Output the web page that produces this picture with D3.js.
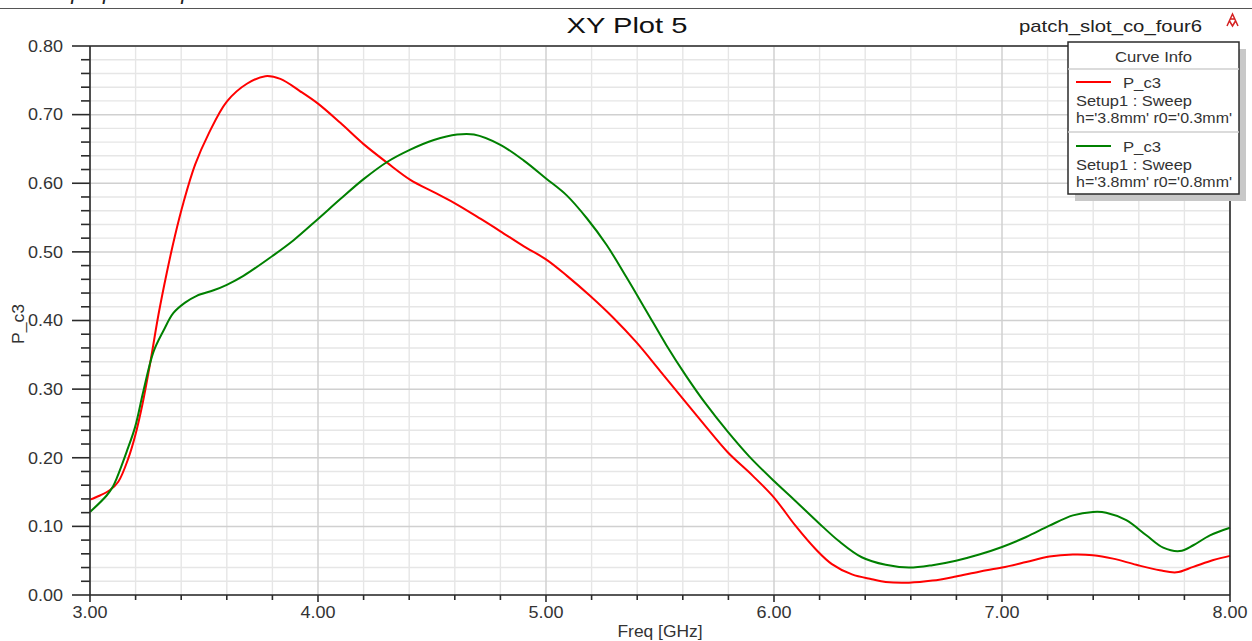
<!DOCTYPE html>
<html><head><meta charset="utf-8">
<script src="https://cdn.jsdelivr.net/npm/d3@7"></script>
<style>
html,body{margin:0;padding:0;background:#fff;overflow:hidden}
text{font-family:"Liberation Sans",Arial,sans-serif}
</style></head>
<body><svg id="c" width="1252" height="641"></svg>
<script>
// ---------- data ----------
const freqRed = [3.000,3.044,3.088,3.124,3.168,3.198,3.230,3.264,3.300,3.337,3.373,3.410,3.461,3.520,3.600,3.688,3.769,3.835,3.922,4.000,4.098,4.200,4.303,4.405,4.508,4.610,4.714,4.800,4.903,5.000,5.092,5.193,5.295,5.397,5.499,5.600,5.702,5.797,5.906,6.000,6.094,6.182,6.254,6.342,6.429,6.490,6.592,6.695,6.798,6.900,7.000,7.106,7.208,7.311,7.399,7.487,7.589,7.692,7.765,7.839,7.927,8.000];
const valRed  = [0.139,0.145,0.153,0.165,0.199,0.232,0.278,0.338,0.408,0.470,0.524,0.572,0.627,0.672,0.719,0.745,0.756,0.752,0.734,0.716,0.688,0.657,0.630,0.605,0.587,0.569,0.548,0.530,0.508,0.489,0.465,0.436,0.404,0.368,0.327,0.286,0.245,0.208,0.174,0.142,0.101,0.067,0.045,0.030,0.023,0.019,0.018,0.021,0.027,0.034,0.040,0.048,0.056,0.059,0.058,0.053,0.044,0.036,0.033,0.041,0.051,0.057];
const freqGreen = [3.000,3.073,3.102,3.117,3.161,3.198,3.234,3.278,3.322,3.366,3.417,3.468,3.542,3.600,3.673,3.800,3.893,4.000,4.098,4.200,4.303,4.405,4.508,4.610,4.684,4.800,4.903,5.000,5.092,5.179,5.266,5.353,5.440,5.528,5.615,5.702,5.797,5.891,6.000,6.094,6.196,6.283,6.385,6.490,6.592,6.695,6.798,6.900,7.000,7.106,7.208,7.311,7.399,7.457,7.545,7.633,7.707,7.780,7.839,7.912,8.000];
const valGreen  = [0.121,0.145,0.159,0.170,0.209,0.245,0.297,0.354,0.385,0.411,0.426,0.436,0.444,0.452,0.465,0.494,0.517,0.548,0.577,0.606,0.631,0.649,0.663,0.671,0.671,0.656,0.633,0.607,0.582,0.549,0.510,0.463,0.414,0.364,0.319,0.278,0.238,0.202,0.166,0.137,0.105,0.079,0.055,0.044,0.040,0.0435,0.050,0.059,0.070,0.0845,0.101,0.116,0.121,0.120,0.109,0.087,0.069,0.064,0.0725,0.087,0.098];
const xTickLabels = ["3.00","4.00","5.00","6.00","7.00","8.00"];
const yTickLabels = ["0.00","0.10","0.20","0.30","0.40","0.50","0.60","0.70","0.80"];
const seriesNames = ["P_c3","P_c3"];
const seriesSetup = ["Setup1 : Sweep","Setup1 : Sweep"];
const seriesParams = ["h='3.8mm' r0='0.3mm'","h='3.8mm' r0='0.8mm'"];
const seriesColors = ["#ff0000","#008000"];

// ---------- layout ----------
const svg = d3.select("#c");
const L=90,R=1230,T=46,B=595;
const x = d3.scaleLinear().domain([3,8]).range([L,R]);
const y = d3.scaleLinear().domain([0,0.8]).range([B,T]);
const axisCol="#2b2b2b", txtCol="#333";

// header remnant
svg.append("text").attr("x",10).attr("y",-1).attr("font-family","Liberation Serif").attr("font-style","italic")
  .attr("font-size",22).attr("fill","#222").text("of the proposed operation structure.");
svg.append("line").attr("x1",0).attr("x2",1252).attr("y1",8.5).attr("y2",8.5).attr("stroke","#555").attr("stroke-width",1);

// grid
const g = svg.append("g");
const minorX = d3.range(0,26).map(i=>3+i*0.2);
const minorY = d3.range(0,41).map(i=>i*0.02);
g.selectAll(".mx").data(minorX.filter((d,i)=>i%5!==0)).join("line")
  .attr("x1",d=>x(d)).attr("x2",d=>x(d)).attr("y1",T).attr("y2",B).attr("stroke","#e6e6e6").attr("stroke-width",1.4);
g.selectAll(".my").data(minorY.filter((d,i)=>i%5!==0)).join("line")
  .attr("y1",d=>y(d)).attr("y2",d=>y(d)).attr("x1",L).attr("x2",R).attr("stroke","#e6e6e6").attr("stroke-width",1.4);
g.selectAll(".Mx").data(minorX.filter((d,i)=>i%5===0)).join("line")
  .attr("x1",d=>x(d)).attr("x2",d=>x(d)).attr("y1",T).attr("y2",B).attr("stroke","#d0d0d0").attr("stroke-width",1.5);
g.selectAll(".My").data(minorY.filter((d,i)=>i%5===0)).join("line")
  .attr("y1",d=>y(d)).attr("y2",d=>y(d)).attr("x1",L).attr("x2",R).attr("stroke","#d0d0d0").attr("stroke-width",1.5);

// curves
const line = d3.line().x(d=>x(d[0])).y(d=>y(d[1])).curve(d3.curveCatmullRom.alpha(0.5));
const series = [d3.zip(freqRed,valRed), d3.zip(freqGreen,valGreen)];
svg.append("g").selectAll("path").data(series).join("path")
  .attr("d",line).attr("fill","none").attr("stroke",(d,i)=>seriesColors[i]).attr("stroke-width",2);

// frame & axes
const ax = svg.append("g").attr("stroke",axisCol).attr("stroke-width",1.6);
ax.append("line").attr("x1",L).attr("x2",R).attr("y1",T).attr("y2",T);
ax.append("line").attr("x1",R).attr("x2",R).attr("y1",T).attr("y2",B);
ax.append("line").attr("x1",L).attr("x2",L).attr("y1",T).attr("y2",B);
ax.append("line").attr("x1",L).attr("x2",R).attr("y1",B).attr("y2",B);
ax.selectAll(".yt").data(minorY).join("line")
  .attr("x1",(d,i)=>i%5===0?L-18:L-9).attr("x2",L).attr("y1",d=>y(d)).attr("y2",d=>y(d));
ax.selectAll(".xt").data(minorX).join("line")
  .attr("x1",d=>x(d)).attr("x2",d=>x(d)).attr("y1",B).attr("y2",(d,i)=>i%5===0?B+7:B+5);

// tick labels
svg.append("g").selectAll("text").data(yTickLabels).join("text")
  .attr("x",63).attr("y",d=>y(+d)).attr("dy","0.36em").attr("text-anchor","end")
  .attr("font-size",16).attr("fill",txtCol).attr("textLength",35).attr("lengthAdjust","spacingAndGlyphs").text(d=>d);
svg.append("g").selectAll("text").data(xTickLabels).join("text")
  .attr("x",d=>x(+d)).attr("y",618).attr("text-anchor","middle")
  .attr("font-size",16).attr("fill",txtCol).attr("textLength",35).attr("lengthAdjust","spacingAndGlyphs").text(d=>d);

// axis titles
svg.append("text").attr("x",(L+R)/2).attr("y",636.5).attr("text-anchor","middle").attr("font-size",16)
  .attr("fill",txtCol).attr("textLength",85).attr("lengthAdjust","spacingAndGlyphs").text("Freq [GHz]");
svg.append("text").attr("transform","translate(24,324) rotate(-90)").attr("text-anchor","middle").attr("font-size",16)
  .attr("fill",txtCol).attr("textLength",40).attr("lengthAdjust","spacingAndGlyphs").text("P_c3");

// title
svg.append("text").attr("x",627).attr("y",33).attr("text-anchor","middle").attr("font-size",22)
  .attr("fill","#111").attr("textLength",121).attr("lengthAdjust","spacingAndGlyphs").text("XY Plot 5");
svg.append("text").attr("x",1019).attr("y",32).attr("font-size",17)
  .attr("fill","#222").attr("textLength",183).attr("lengthAdjust","spacingAndGlyphs").text("patch_slot_co_four6");
// icon
svg.append("path").attr("d","M1227,26 L1232.5,14 L1238,26 M1229.5,21 L1232.5,26 L1235.5,21 M1230,19 L1235,19")
  .attr("fill","none").attr("stroke","#d42020").attr("stroke-width",1.5);

// legend
const lx=1068, ly=42, lw=171, lh=152;
svg.append("rect").attr("x",lx+7).attr("y",ly+7).attr("width",lw).attr("height",lh).attr("fill","#c8c8c8");
svg.append("rect").attr("x",lx).attr("y",ly).attr("width",lw).attr("height",lh).attr("fill","#fff").attr("stroke",axisCol).attr("stroke-width",1.5);
svg.append("text").attr("x",lx+lw/2).attr("y",57).attr("dy","0.36em").attr("text-anchor","middle").attr("font-size",14.5)
  .attr("fill",txtCol).attr("textLength",77).attr("lengthAdjust","spacingAndGlyphs").text("Curve Info");
svg.append("line").attr("x1",lx).attr("x2",lx+lw).attr("y1",69).attr("y2",69).attr("stroke","#cfcfcf").attr("stroke-width",1.5);
svg.append("line").attr("x1",lx).attr("x2",lx+lw).attr("y1",132).attr("y2",132).attr("stroke","#cfcfcf").attr("stroke-width",1.5);
const leg = svg.append("g").selectAll("g").data(seriesNames).join("g").attr("transform",(d,i)=>`translate(0,${i*64})`);
leg.append("line").attr("x1",1076).attr("x2",1111).attr("y1",82).attr("y2",82).attr("stroke",(d,i)=>seriesColors[i]).attr("stroke-width",2.2);
leg.append("text").attr("x",1123).attr("y",83).attr("dy","0.36em").attr("font-size",15).attr("fill",txtCol)
  .attr("textLength",38).attr("lengthAdjust","spacingAndGlyphs").text(d=>d);
leg.append("text").attr("x",1076).attr("y",101).attr("dy","0.36em").attr("font-size",14).attr("fill",txtCol)
  .attr("textLength",116).attr("lengthAdjust","spacingAndGlyphs").text((d,i)=>seriesSetup[i]);
leg.append("text").attr("x",1076).attr("y",118).attr("dy","0.36em").attr("font-size",14).attr("fill",txtCol)
  .attr("textLength",156).attr("lengthAdjust","spacingAndGlyphs").text((d,i)=>seriesParams[i]);
</script></body></html>
